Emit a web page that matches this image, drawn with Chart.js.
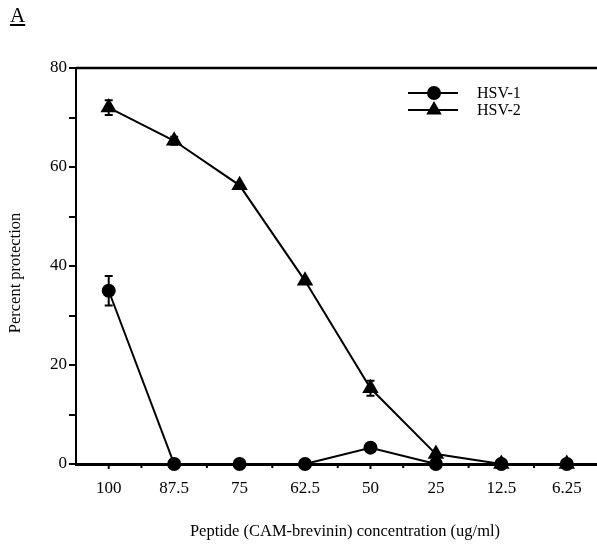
<!DOCTYPE html>
<html>
<head>
<meta charset="utf-8">
<script src="https://cdn.jsdelivr.net/npm/chart.js@4/dist/chart.umd.min.js"></script>
<style>
  html, body { margin: 0; padding: 0; background: #fff; overflow: hidden; }
  #wrap { position: relative; width: 597px; height: 546px; overflow: hidden; }
  #panel {
    position: absolute; left: 10px; top: 3px;
    font-family: "Liberation Serif", serif; font-size: 21px;
    text-decoration: underline; color: #000;
  }
</style>
</head>
<body>
<div id="wrap">
  <div id="panel">A</div>
  <canvas id="chart" width="609" height="546"></canvas>
</div>
<script>
  // concentrations (ug/ml) on the x axis
  const concentrations = ['100', '87.5', '75', '62.5', '50', '25', '12.5', '6.25'];
  const hsv1 = [35, 0, 0, 0, 3.3, 0, 0, 0];
  const hsv1Err = [3, 0, 0, 0, 0, 0, 0, 0];
  const hsv2 = [72, 65.3, 56.3, 37, 15.3, 2, 0, 0];
  const hsv2Err = [1.5, 0.8, 0, 0, 1.5, 0, 0, 0];
  const yTicks = [0, 20, 40, 60, 80];

  const serif = '"Liberation Serif", serif';

  // error bars, frame, x tick marks, axis titles and legend
  const extras = {
    id: 'extras',
    afterDatasetsDraw(chart) {
      const ctx = chart.ctx;
      const x = chart.scales.x;
      const y = chart.scales.y;
      const area = chart.chartArea;
      ctx.save();
      ctx.strokeStyle = '#000';
      ctx.fillStyle = '#000';

      // error bars
      const errs = [hsv1Err, hsv2Err];
      chart.data.datasets.forEach((ds, di) => {
        ds.data.forEach((v, i) => {
          const e = errs[di][i];
          if (!e) return;
          const px = x.getPixelForValue(i);
          const top = y.getPixelForValue(v + e);
          const bot = y.getPixelForValue(v - e);
          ctx.lineWidth = 2;
          ctx.beginPath();
          ctx.moveTo(px, top); ctx.lineTo(px, bot);
          ctx.moveTo(px - 4, top); ctx.lineTo(px + 4, top);
          ctx.moveTo(px - 4, bot); ctx.lineTo(px + 4, bot);
          ctx.stroke();
        });
      });

      // top frame line
      ctx.lineWidth = 2.5;
      ctx.beginPath();
      ctx.moveTo(area.left, area.top);
      ctx.lineTo(chart.width, area.top);
      ctx.stroke();

      // x tick marks at centres and between categories
      ctx.lineWidth = 2;
      ctx.beginPath();
      const half = (x.getPixelForValue(1) - x.getPixelForValue(0)) / 2;
      concentrations.forEach((c, i) => {
        const px = x.getPixelForValue(i);
        ctx.moveTo(px, area.bottom); ctx.lineTo(px, area.bottom + 5);
        ctx.moveTo(px + half, area.bottom); ctx.lineTo(px + half, area.bottom + 4);
      });
      ctx.stroke();

      // axis titles
      ctx.font = '16.5px ' + serif;
      ctx.textAlign = 'center';
      ctx.textBaseline = 'middle';
      ctx.fillText('Peptide (CAM-brevinin) concentration (ug/ml)', 345, 532);
      ctx.save();
      ctx.translate(16, 273);
      ctx.rotate(-Math.PI / 2);
      ctx.fillText('Percent protection', 0, 0);
      ctx.restore();

      // legend
      const items = [
        { label: 'HSV-1', style: 'circle', ly: 93 },
        { label: 'HSV-2', style: 'triangle', ly: 110 }
      ];
      items.forEach(it => {
        ctx.lineWidth = 2;
        ctx.beginPath();
        ctx.moveTo(408, it.ly); ctx.lineTo(458, it.ly);
        ctx.stroke();
        Chart.helpers.drawPoint(ctx, { pointStyle: it.style, radius: it.style === 'circle' ? 6 : 7, borderWidth: 1 }, 434, it.ly);
        ctx.fill();
        ctx.font = '16px ' + serif;
        ctx.textAlign = 'left';
        ctx.textBaseline = 'middle';
        ctx.fillText(it.label, 477, it.ly + 1);
      });
      ctx.restore();
    }
  };

  new Chart(document.getElementById('chart'), {
    type: 'line',
    data: {
      labels: concentrations,
      datasets: [
        {
          label: 'HSV-1',
          data: hsv1,
          borderColor: '#000',
          backgroundColor: '#000',
          borderWidth: 2,
          pointStyle: 'circle',
          pointRadius: 6,
          clip: false
        },
        {
          label: 'HSV-2',
          data: hsv2,
          borderColor: '#000',
          backgroundColor: '#000',
          borderWidth: 2,
          pointStyle: 'triangle',
          pointRadius: 7.5,
          clip: false
        }
      ]
    },
    options: {
      responsive: false,
      animation: false,
      layout: { padding: { left: 6, right: 0, top: 68, bottom: 14 } },
      plugins: {
        legend: { display: false },
        tooltip: { enabled: false }
      },
      scales: {
        x: {
          offset: true,
          grid: { display: false },
          border: { color: '#000', width: 3 },
          ticks: { color: '#000', font: { family: serif, size: 17 }, padding: 6, maxRotation: 0 },
          afterFit(scale) { scale.height = 546 - 464 - 14; }
        },
        y: {
          min: 0,
          max: 80,
          ticks: {
            stepSize: 10,
            color: '#000',
            font: { family: serif, size: 17 },
            padding: 2,
            callback: v => yTicks.includes(v) ? v : ''
          },
          grid: { drawOnChartArea: false, color: '#000', tickLength: 7, lineWidth: 2 },
          border: { color: '#000', width: 2 },
          afterFit(scale) { scale.width = 76 - 6; }
        }
      }
    },
    plugins: [extras]
  });
</script>
</body>
</html>
